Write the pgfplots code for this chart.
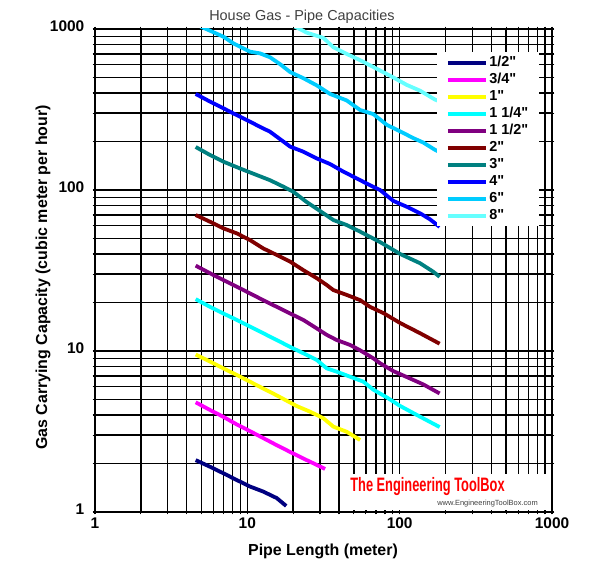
\documentclass[border=0pt]{standalone}
\usepackage{pgfplots}
\pgfplotsset{compat=1.18}
\usepackage{fontspec}
\setmainfont{Liberation Sans}[Ligatures=TeXOff]
\definecolor{cA}{HTML}{000080}
\definecolor{cB}{HTML}{FF00FF}
\definecolor{cC}{HTML}{FFFF00}
\definecolor{cD}{HTML}{00FFFF}
\definecolor{cE}{HTML}{800080}
\definecolor{cF}{HTML}{800000}
\definecolor{cG}{HTML}{008080}
\definecolor{cH}{HTML}{0000FF}
\definecolor{cI}{HTML}{00CCFF}
\definecolor{cJ}{HTML}{66FFFF}
\begin{document}
\begin{tikzpicture}
\path[use as bounding box] (0,0) rectangle (594bp,586bp);
\begin{axis}[
  at={(95bp,74bp)}, anchor=south west,
  scale only axis, width=457bp, height=483bp,
  xmode=log, ymode=log, xmin=1, xmax=1000, ymin=1, ymax=1000,
  xtick={1,10,100,1000}, xticklabels={1,10,100,1000},
  ytick={1,10,100,1000}, yticklabels={1,10,100,1000},
  minor xtick={2,3,4,5,6,7,8,9,20,30,40,50,60,70,80,90,200,300,400,500,600,700,800,900},
  minor ytick={2,3,4,5,6,7,8,9,20,30,40,50,60,70,80,90,200,300,400,500,600,700,800,900},
  grid=both,
  major grid style={black, line width=1.4bp},
  minor grid style={black, line width=1.4bp},
  axis line style={black, line width=1.4bp},
  tick style={black, line width=1.2bp},
  major tick length=5bp, minor tick length=5bp, tick align=center,
  /pgf/number format/assume math mode=true,
  xticklabel style={font=\fontsize{15.5}{16}\selectfont\bfseries, anchor=center, yshift=-9bp},
  yticklabel style={font=\fontsize{15.5}{16}\selectfont\bfseries, anchor=east, inner sep=0pt, xshift=-8bp, yshift=3bp},
  every axis plot/.append style={line width=3.8bp, line join=round},
  legend style={at={(0.748,0.952)}, anchor=north west, fill=white, draw=none,
    inner xsep=9bp, inner ysep=2bp, row sep=0pt, column sep=0pt,
    font=\fontsize{14.5}{15}\selectfont\bfseries,
    nodes={inner sep=1.5bp, text height=11bp, text depth=3bp, anchor=west}},
  legend cell align=left,
  legend image code/.code={\draw[#1] (0bp,0bp) -- (38bp,0bp);},
]
\addplot[cA] table {
4.58 2.10
5.69 1.91
6.96 1.74
8.52 1.58
10.4 1.44
12.7 1.34
15.6 1.22
18.0 1.09
};
\addlegendentry{1/2"}
\addplot[cB] table {
4.58 4.8
5.69 4.3
6.96 3.9
8.52 3.5
10.4 3.18
12.7 2.88
15.6 2.6
19.1 2.36
23.3 2.15
28.6 1.96
32.4 1.85
};
\addlegendentry{3/4"}
\addplot[cC] table {
4.58 9.5
5.69 8.6
6.96 7.8
8.52 7.1
10.4 6.45
12.7 5.85
15.6 5.3
21.1 4.55
25.8 4.20
31.6 3.82
36.7 3.39
44.9 3.15
55.0 2.80
};
\addlegendentry{1"}
\addplot[cD] table {
4.58 21.0
5.69 18.8
6.96 17.1
8.52 15.6
10.4 14.2
12.7 12.9
15.6 11.7
19.1 10.6
23.3 9.68
28.6 8.79
33.2 7.80
38.6 7.44
47.3 6.92
57.8 6.45
67.2 5.75
82.3 5.15
101 4.55
136 3.91
183 3.37
};
\addlegendentry{1 1/4"}
\addplot[cE] table {
4.58 33.9
5.69 30.4
6.96 27.6
8.52 25.1
10.4 22.8
12.7 20.7
15.6 18.8
19.1 17.1
23.3 15.6
28.6 13.8
33.2 12.6
38.6 11.7
47.3 10.9
55.0 10.1
67.2 9.0
74.3 8.4
90.9 7.5
117 6.75
143 6.2
183 5.45
};
\addlegendentry{1 1/2"}
\addplot[cF] table {
4.58 69.9
5.69 63.5
6.96 57.8
8.52 53.8
10.4 48.9
12.7 43.4
15.6 39.5
19.1 35.9
23.3 31.8
28.6 28.3
33.2 25.7
36.7 23.9
44.9 22.3
55.0 20.7
63.9 18.8
78.2 17.2
101 14.9
136 12.9
183 11.1
};
\addlegendentry{2"}
\addplot[cG] table {
4.58 185
5.69 165
6.96 150
8.96 136
11.5 124
14.1 115
17.2 105
20.0 97.6
24.5 84.2
30.0 74.1
36.7 65.1
44.9 60.6
55.0 55.1
74.3 47.5
101 40.0
136 35.1
166 31.1
183 28.9
};
\addlegendentry{3"}
\addplot[cH] table {
4.58 395
5.69 354
6.96 322
8.09 299
9.91 272
12.1 247
14.1 230
16.4 207
19.1 186
23.3 173
28.6 157
34.9 145
42.7 130
52.3 118
63.9 107
74.3 100
90.9 85.5
111 78.8
136 71.7
158 65.8
183 59
};
\addlegendentry{4"}
\addplot[cI] table {
4.58 1075
5.06 1025
6.96 896
8.09 815
10.4 723
12.1 706
14.1 667
16.4 605
19.1 540
23.3 495
28.6 446
34.9 395
44.9 360
55.0 314
67.2 296
82.3 254
101 231
123 210
143 197
170 178
183 172
};
\addlegendentry{6"}
\addplot[cJ] table {
18.3 1120
20.3 1040
24.5 950
31.6 880
36.7 770
44.9 700
55.0 640
70.7 566
90.9 500
111 450
136 414
170 365
183 355
};
\addlegendentry{8"}
\end{axis}
\fill[white] (342bp,75.8bp) rectangle (548bp,112bp);
\node[anchor=base, text=red, inner sep=0pt, font=\fontsize{19.5}{20}\selectfont\bfseries] at (427.5bp,94bp) {\scalebox{0.66}[1]{The Engineering ToolBox}};
\node[anchor=base, text=black!75, inner sep=0pt, font=\fontsize{7.5}{8}\selectfont] at (487.5bp,80.3bp) {www.EngineeringToolBox.com};
\node[anchor=base, text=black!75, inner sep=0pt, font=\fontsize{14.5}{15}\selectfont] at (302bp,565bp) {House Gas - Pipe Capacities};
\node[anchor=base, inner sep=0pt, font=\fontsize{16}{17}\selectfont\bfseries] at (323bp,31bp) {Pipe Length (meter)};
\node[anchor=base, rotate=90, inner sep=0pt, font=\fontsize{16}{17}\selectfont\bfseries] at (47bp,308.5bp) {Gas Carrying Capacity (cubic meter per hour)};
\end{tikzpicture}
\end{document}
